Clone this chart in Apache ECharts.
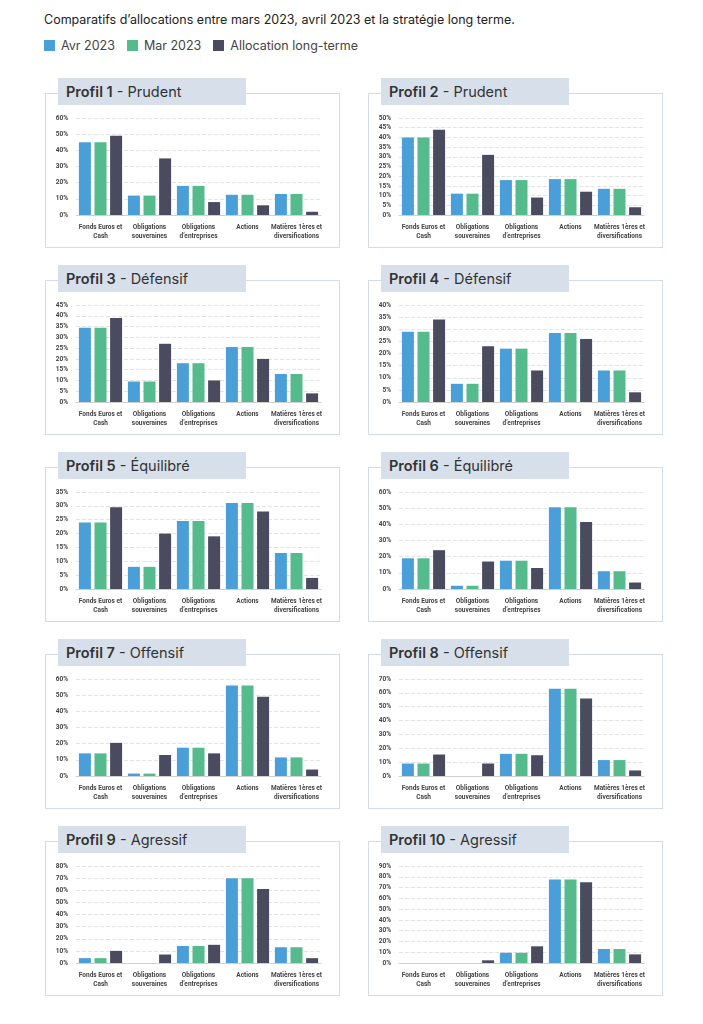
<!DOCTYPE html>
<html><head><meta charset="utf-8">
<script src="https://cdn.jsdelivr.net/npm/echarts@6/dist/echarts.min.js"></script>
<style>
body{margin:0;background:#fff;font-family:Inter,"Noto Sans",sans-serif;color:#222;}
#wrap{position:relative;width:703px;height:1024px;}
.head{position:absolute;left:44px;top:12px;font-size:12.5px;}
.leg{position:absolute;left:44px;top:38px;font-size:12.5px;color:#444;display:flex;gap:12px;}
.leg span i{display:inline-block;width:11px;height:11px;margin-right:6px;vertical-align:-1px;}
.panel{position:absolute;width:295px;height:155px;border:1px solid #d3dce6;box-sizing:border-box;}
.title{position:absolute;width:188px;height:27px;background:#d7e0ea;font-size:14.5px;line-height:27px;padding-left:8px;box-sizing:border-box;color:#333;}
.chart{position:absolute;left:0;top:0;width:295px;height:155px;}
</style></head>
<body><div id="wrap">
<div class="head">Comparatifs d’allocations entre mars 2023, avril 2023 et la stratégie long terme.</div>
<div class="leg"><span><i style="background:#4b9fd9"></i>Avr 2023</span><span><i style="background:#55ba8c"></i>Mar 2023</span><span><i style="background:#4a4b5e"></i>Allocation long-terme</span></div>
</div>
<script>
const categories = ['Fonds Euros et\nCash', 'Obligations\nsouveraines', 'Obligations\nd’entreprises', 'Actions', 'Matières 1ères et\ndiversifications'];
const profileNames = ['Prudent', 'Prudent', 'Défensif', 'Défensif', 'Équilibré', 'Équilibré', 'Offensif', 'Offensif', 'Agressif', 'Agressif'];
// avril et mars identiques
const avr = [
  [45, 12, 18, 12.5, 13],
  [40, 11, 18, 18.5, 13.5],
  [34.5, 9.5, 18, 25.5, 13],
  [29, 7.5, 22, 28.5, 13],
  [24, 8, 24.5, 31, 13],
  [19, 2, 17.5, 50.5, 11],
  [14, 1.5, 17.5, 56, 11.5],
  [9, 0, 16, 63, 11.5],
  [4, 0, 14, 70, 13],
  [0, 0, 9.5, 77.5, 13]
];
const mar = avr.map(r => r.slice());
const longTerme = [
  [49, 35, 8, 6, 2],
  [44, 31, 9, 12, 4],
  [39, 27, 10, 20, 4],
  [34, 23, 13, 26, 4],
  [29.5, 20, 19, 28, 4],
  [24, 17, 13, 41.5, 4],
  [20.5, 13, 14, 49, 4],
  [15.5, 9, 15, 56, 4],
  [10, 7, 15, 61, 4],
  [0, 2.5, 15.5, 75, 8]
];
const axisMax = [60, 50, 45, 40, 35, 60, 60, 70, 80, 90];
const axisStep = [10, 5, 5, 5, 5, 10, 10, 10, 10, 10];

const wrap = document.getElementById('wrap');
for (let i = 0; i < 10; i++) {
  const left = i % 2 ? 368 : 45;
  const top = 93 + Math.floor(i / 2) * 187;
  const p = document.createElement('div');
  p.className = 'panel';
  p.style.left = left + 'px'; p.style.top = top + 'px';
  wrap.appendChild(p);
  const t = document.createElement('div');
  t.className = 'title';
  t.style.left = (left + 13) + 'px'; t.style.top = (top - 15) + 'px';
  t.innerHTML = '<b style="font-weight:600">Profil ' + (i + 1) + '</b> - ' + profileNames[i];
  wrap.appendChild(t);
  const c = document.createElement('div');
  c.className = 'chart';
  p.appendChild(c);
  const chart = echarts.init(c);
  const bar = (name, data, color) => ({name, type: 'bar', data, itemStyle: {color}, barWidth: 12, barGap: '30%'});
  chart.setOption({
    animation: false,
    grid: {left: 30, right: 20, top: 24, bottom: 34},
    xAxis: {type: 'category', data: categories,
      axisLine: {lineStyle: {color: '#d0d0d0'}}, axisTick: {show: false},
      axisLabel: {fontSize: 6.5, color: '#444', fontFamily: 'Roboto', lineHeight: 9, interval: 0, fontWeight: 'bold'}},
    yAxis: {type: 'value', min: 0, max: axisMax[i], interval: axisStep[i],
      axisLabel: {formatter: '{value}%', fontSize: 6.5, color: '#444', fontFamily: 'Roboto', fontWeight: 'bold'},
      splitLine: {lineStyle: {color: '#e3e3e3', type: 'dashed'}}},
    series: [bar('Avr 2023', avr[i], '#4b9fd9'), bar('Mar 2023', mar[i], '#55ba8c'), bar('Allocation long-terme', longTerme[i], '#4a4b5e')]
  });
}
</script>
</body></html>
